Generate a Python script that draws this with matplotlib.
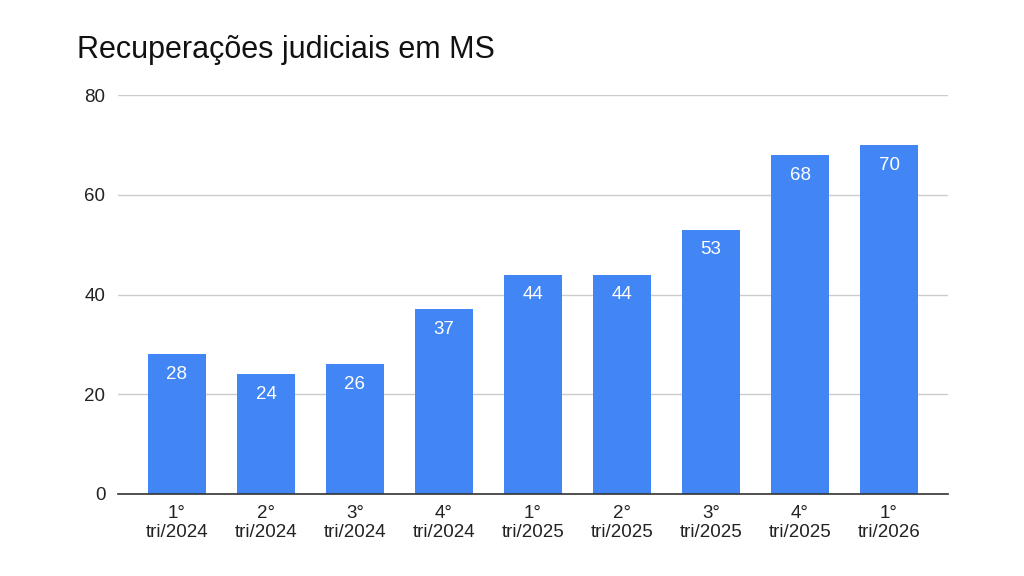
import matplotlib.pyplot as plt

# dados
trimestres = ["1°\ntri/2024", "2°\ntri/2024", "3°\ntri/2024", "4°\ntri/2024",
              "1°\ntri/2025", "2°\ntri/2025", "3°\ntri/2025", "4°\ntri/2025",
              "1°\ntri/2026"]
recuperacoes = [28, 24, 26, 37, 44, 44, 53, 68, 70]
y_ticks = [0, 20, 40, 60, 80]

plt.rcParams['font.family'] = ['Liberation Sans', 'DejaVu Sans']

fig = plt.figure(figsize=(10.24, 5.76), dpi=100)
ax = fig.add_axes([0.1152, 0.1424, 0.8106, 0.6926])

x = range(len(recuperacoes))
bars = ax.bar(x, recuperacoes, width=0.65, color='#4285F4', zorder=3)

for xi, v in zip(x, recuperacoes):
    ax.annotate(str(v), (xi, v), xytext=(0, -14.5), textcoords='offset points',
                ha='center', va='center', color='white', fontsize=13.5, zorder=4)

ax.set_xlim(-0.663, len(recuperacoes) - 1 + 0.663)
ax.set_ylim(0, 80)
ax.set_yticks(y_ticks)
ax.set_xticks(list(x))
ax.set_xticklabels(trimestres, fontsize=13.5, color='#222222', linespacing=1.15)
ax.tick_params(axis='y', labelsize=13.5, labelcolor='#222222', length=0, pad=9)
ax.tick_params(axis='x', length=0, pad=8)

ax.grid(axis='y', color='#cccccc', linewidth=1, zorder=0)
for s in ['top', 'right', 'left']:
    ax.spines[s].set_visible(False)
ax.spines['bottom'].set_color('#333333')
ax.spines['bottom'].set_linewidth(1.2)
ax.spines['bottom'].set_zorder(5)

fig.text(0.075, 0.913, "Recuperações judiciais em MS", fontsize=22,
         color='#111111', ha='left', va='center')

fig.savefig("out.png", dpi=100)
